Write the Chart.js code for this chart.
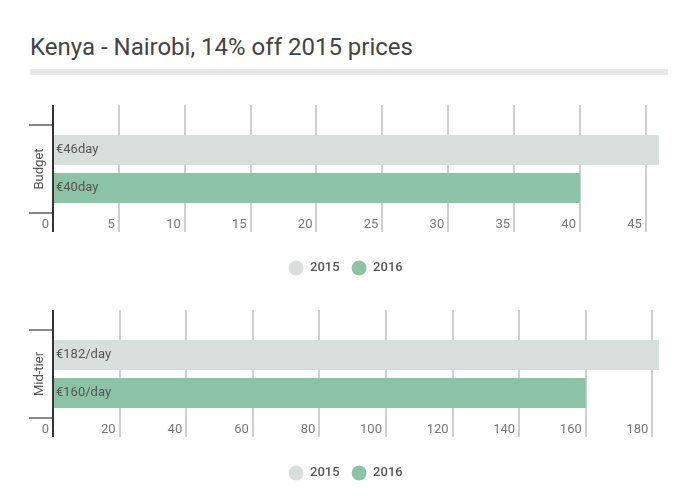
<!DOCTYPE html>
<html>
<head>
<meta charset="utf-8">
<script src="https://cdn.jsdelivr.net/npm/chart.js@4.4.1/dist/chart.umd.min.js"></script>
<style>
body { margin: 0; background: #fff; width: 700px; height: 504px; position: relative; overflow: hidden; font-family: Roboto, sans-serif; }
.title { position: absolute; left: 30px; top: 33px; font-size: 24px; line-height: 28px; color: #444; }
.rule { position: absolute; left: 30px; top: 69px; width: 638px; height: 6px; background: #e6e6e6; }
canvas { position: absolute; left: 0; }
#budget { top: 95px; }
#midtier { top: 300px; }
</style>
</head>
<body>
<div class="title">Kenya - Nairobi, 14% off 2015 prices</div>
<div class="rule"></div>
<canvas id="budget" width="700" height="192"></canvas>
<canvas id="midtier" width="700" height="192"></canvas>
<script>
const years = ['2015', '2016'];
const yearColors = ['#d8dedb', '#8cc3a6'];

const budgetCategory = ['Budget'];
const budgetValues = [46, 40];
const budgetLabels = ['€46day', '€40day'];
const budgetTicks = [0, 5, 10, 15, 20, 25, 30, 35, 40, 45];

const midCategory = ['Mid-tier'];
const midValues = [182, 160];
const midLabels = ['€182/day', '€160/day'];
const midTicks = [0, 20, 40, 60, 80, 100, 120, 140, 160, 180];

Chart.defaults.font.family = 'Roboto';

// price text written at the start of each bar
const barText = {
    id: 'barText',
    afterDatasetsDraw(chart) {
        const ctx = chart.ctx;
        ctx.save();
        ctx.font = '13px Roboto';
        ctx.fillStyle = '#555';
        ctx.textBaseline = 'middle';
        chart.data.datasets.forEach((ds, i) => {
            chart.getDatasetMeta(i).data.forEach(bar => {
                ctx.fillText(ds.priceText, chart.chartArea.left + 3, bar.y);
            });
        });
        ctx.restore();
    }
};

// zero line is dark, the rest light grey
const gridColor = c => (c.tick && c.tick.value === 0) ? '#333' : '#cfcfcf';

function makeChart(id, category, values, labels, ticks) {
    const setTicks = scale => { scale.ticks = ticks.map(v => ({ value: v })); };
    const top = Math.max(...values);

    return new Chart(document.getElementById(id), {
        type: 'bar',
        data: {
            labels: category,
            datasets: years.map((year, i) => ({
                label: year,
                data: [values[i]],
                priceText: labels[i],
                backgroundColor: yearColors[i],
                borderWidth: 0,
                categoryPercentage: 0.864,
                barPercentage: 0.79
            }))
        },
        options: {
            indexAxis: 'y',
            responsive: false,
            animation: false,
            layout: { padding: { left: 32.2, right: 41, top: 10, bottom: 1.5 } },
            plugins: {
                tooltip: { enabled: false },
                legend: {
                    position: 'bottom',
                    labels: {
                        boxWidth: 15,
                        boxHeight: 15,
                        useBorderRadius: true,
                        borderRadius: 7.5,
                        padding: 12,
                        color: '#555',
                        font: { size: 13, weight: '500' }
                    }
                }
            },
            scales: {
                x: {
                    min: 0,
                    max: top,
                    afterBuildTicks: setTicks,
                    grid: { color: gridColor, lineWidth: 2, tickLength: 19 },
                    border: { display: false },
                    ticks: { align: 'end', labelOffset: -4, padding: -14.8, color: '#777', font: { size: 13 } },
                    // empty title, only keeps the gap above the legend
                    title: { display: true, text: '', font: { size: 10 }, padding: { top: 18.5, bottom: 0 } }
                },
                x2: {
                    axis: 'x',
                    position: 'top',
                    min: 0,
                    max: top,
                    afterBuildTicks: setTicks,
                    grid: { color: gridColor, lineWidth: 2, tickLength: 20, drawOnChartArea: false },
                    border: { display: false },
                    ticks: { display: false }
                },
                y: {
                    z: 1,
                    grid: { offset: true, drawOnChartArea: false, tickLength: 24, color: '#888', lineWidth: 2 },
                    border: { display: true, color: '#333', width: 2 },
                    ticks: { display: false },
                    title: {
                        display: true,
                        text: category[0],
                        color: '#555',
                        font: { size: 13 },
                        padding: { top: 0, bottom: -18.8 }
                    }
                }
            }
        },
        plugins: [barText]
    });
}

makeChart('budget', budgetCategory, budgetValues, budgetLabels, budgetTicks);
makeChart('midtier', midCategory, midValues, midLabels, midTicks);
</script>
</body>
</html>
